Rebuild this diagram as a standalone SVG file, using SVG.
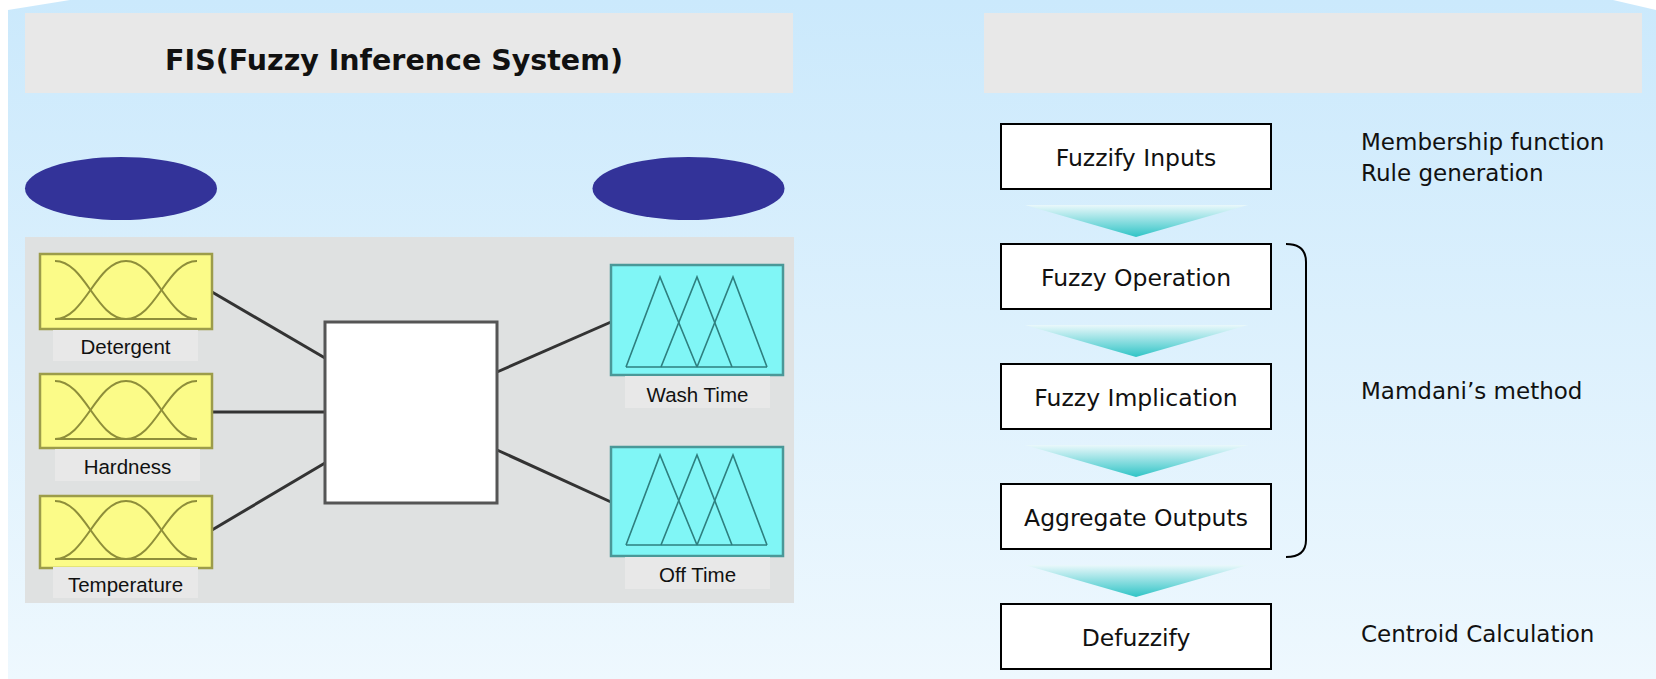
<svg xmlns="http://www.w3.org/2000/svg" xmlns:xlink="http://www.w3.org/1999/xlink" width="1656" height="679" viewBox="0 0 1656 679">
<style>
.title{font-family:"DejaVu Sans",sans-serif;font-weight:bold;font-size:28.5px;fill:#111}
.step{fill:#fff;stroke:#000;stroke-width:2}
.steptxt{font-family:"DejaVu Sans",sans-serif;font-size:23.5px;fill:#111;text-anchor:middle}
.side{font-family:"DejaVu Sans",sans-serif;font-size:23px;fill:#111}
.lbl{fill:#e8e8e8}
.lbltxt{font-family:"Liberation Sans",Arial,sans-serif;font-size:20.5px;fill:#111;text-anchor:middle}
.inbox{fill:#fbfb88;stroke:#9c9c4a;stroke-width:2.5}
.outbox{fill:#80f6f6;stroke:#4a9898;stroke-width:2.5}
.gauss{fill:none;stroke:#8e8e3a;stroke-width:2}
.tri{fill:none;stroke:#2e7f7f;stroke-width:1.6}
.conn{stroke:#333;stroke-width:3;fill:none}
.arrow{fill:url(#arrowGrad)}
</style>
<defs>
<linearGradient id="bgGrad" x1="0" y1="0" x2="0" y2="1">
<stop offset="0" stop-color="#cbe9fc"/>
<stop offset="1" stop-color="#eef8fe"/>
</linearGradient>
<linearGradient id="arrowGrad" x1="0" y1="0" x2="0" y2="1">
<stop offset="0" stop-color="#eaf8fb"/>
<stop offset="1" stop-color="#2fc4c6"/>
</linearGradient>
<g id="gaussShape">
<path class="gauss" d="M15,7 C45,7 56,65 86,65"/>
<path class="gauss" d="M15,65 C45,65 56,7 86,7 C116,7 127,65 157,65"/>
<path class="gauss" d="M86,65 C116,65 127,7 157,7"/>
<path class="gauss" d="M15,65 H157"/>
</g>
<g id="triShape">
<path class="tri" d="M15,100 L49,10 L86,100"/>
<path class="tri" d="M50,100 L86,10 L121,100"/>
<path class="tri" d="M86,100 L122,10 L156,100"/>
<path class="tri" d="M15,100 H156"/>
</g>
</defs>

<rect width="1656" height="679" fill="#fff"/>
<polygon points="8,10 70,0 1613,0 1656,10 1656,679 8,679" fill="url(#bgGrad)"/>

<g id="title-left">
<rect x="25" y="13" width="768" height="80" fill="#e8e8e8"/>
<text class="title" x="394" y="70" text-anchor="middle">FIS(Fuzzy Inference System)</text>
</g>
<g id="title-right">
<rect x="984" y="13" width="658" height="80" fill="#e8e8e8"/>
</g>

<g id="ellipse-input"><ellipse cx="121" cy="188.5" rx="96" ry="31.5" fill="#333399"/></g>
<g id="ellipse-output"><ellipse cx="688.5" cy="188.5" rx="96" ry="31.5" fill="#333399"/></g>

<g id="fis-panel">
<rect x="25" y="237" width="769" height="366" fill="#dfe1e1"/>
</g>

<g id="connectors">
<line class="conn" x1="212" y1="292" x2="325" y2="358"/>
<line class="conn" x1="212" y1="412" x2="325" y2="412"/>
<line class="conn" x1="212" y1="530" x2="325" y2="463"/>
<line class="conn" x1="497" y1="372" x2="611" y2="322"/>
<line class="conn" x1="497" y1="450" x2="611" y2="502"/>
</g>

<g id="input-detergent">
<rect class="inbox" x="40" y="254" width="172" height="75"/>
<use href="#gaussShape" x="40" y="254"/>
<rect class="lbl" x="53" y="330" width="145" height="31"/>
<text class="lbltxt" x="125.5" y="354">Detergent</text>
</g>
<g id="input-hardness">
<rect class="inbox" x="40" y="374" width="172" height="74"/>
<use href="#gaussShape" x="40" y="374"/>
<rect class="lbl" x="55" y="449" width="145" height="32"/>
<text class="lbltxt" x="127.5" y="474">Hardness</text>
</g>
<g id="input-temperature">
<rect class="inbox" x="40" y="496" width="172" height="72"/>
<use href="#gaussShape" x="40" y="494"/>
<rect class="lbl" x="53" y="567" width="145" height="31"/>
<text class="lbltxt" x="125.5" y="592">Temperature</text>
</g>

<g id="rule-box">
<rect x="325" y="322" width="172" height="181" fill="#fff" stroke="#555" stroke-width="3"/>
</g>

<g id="output-wash">
<rect class="outbox" x="611" y="265" width="172" height="110"/>
<use href="#triShape" x="611" y="267"/>
<rect class="lbl" x="625" y="376" width="145" height="32"/>
<text class="lbltxt" x="697.5" y="402">Wash Time</text>
</g>
<g id="output-off">
<rect class="outbox" x="611" y="447" width="172" height="109"/>
<use href="#triShape" x="611" y="445"/>
<rect class="lbl" x="625" y="557" width="145" height="32"/>
<text class="lbltxt" x="697.5" y="582">Off Time</text>
</g>

<g id="flow-arrows">
<polygon class="arrow" points="1025,205 1248,205 1136,237"/>
<polygon class="arrow" points="1025,325 1248,325 1136,357"/>
<polygon class="arrow" points="1025,445 1248,445 1136,477"/>
<polygon class="arrow" points="1025,565 1248,565 1136,597"/>
</g>

<g id="step-fuzzify">
<rect class="step" x="1001" y="124" width="270" height="65"/>
<text class="steptxt" x="1136" y="166">Fuzzify Inputs</text>
</g>
<g id="step-operation">
<rect class="step" x="1001" y="244" width="270" height="65"/>
<text class="steptxt" x="1136" y="286">Fuzzy Operation</text>
</g>
<g id="step-implication">
<rect class="step" x="1001" y="364" width="270" height="65"/>
<text class="steptxt" x="1136" y="406">Fuzzy Implication</text>
</g>
<g id="step-aggregate">
<rect class="step" x="1001" y="484" width="270" height="65"/>
<text class="steptxt" x="1136" y="526">Aggregate Outputs</text>
</g>
<g id="step-defuzzify">
<rect class="step" x="1001" y="604" width="270" height="65"/>
<text class="steptxt" x="1136" y="646">Defuzzify</text>
</g>

<g id="bracket">
<path d="M1286,244 Q1306,244 1306,262 V540 Q1306,557 1286,557" fill="none" stroke="#000" stroke-width="2"/>
</g>

<g id="side-notes">
<text class="side" x="1361" y="150">Membership function</text>
<text class="side" x="1361" y="181">Rule generation</text>
<text class="side" x="1361" y="399">Mamdani’s method</text>
<text class="side" x="1361" y="642">Centroid Calculation</text>
</g>
</svg>
